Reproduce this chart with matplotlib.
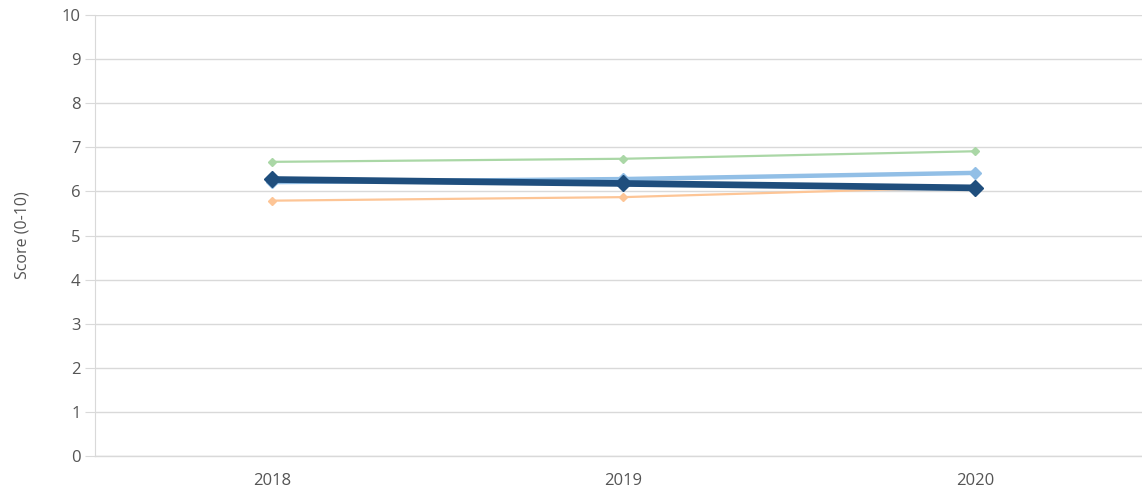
import matplotlib.pyplot as plt

years = ["2018", "2019", "2020"]
green_vals = [6.67, 6.74, 6.91]
orange_vals = [5.79, 5.87, 6.10]
light_blue_vals = [6.21, 6.28, 6.42]
dark_blue_vals = [6.27, 6.18, 6.08]
y_ticks = list(range(0, 11))

plt.rcParams['font.family'] = ['Open Sans', 'DejaVu Sans']

fig = plt.figure(figsize=(11.42, 4.92), dpi=100)
ax = fig.add_axes([95 / 1142, 1 - 456 / 492, 1 - 95 / 1142, (456 - 15) / 492])

x = list(range(len(years)))
ax.plot(x, orange_vals, color='#fdc596', lw=1.6, marker='D', ms=4.5, zorder=3)
ax.plot(x, green_vals, color='#aad7a6', lw=1.6, marker='D', ms=4.5, zorder=3)
ax.plot(x, light_blue_vals, color='#92bfe6', lw=3.2, marker='D', ms=6.5, zorder=4)
ax.plot(x, dark_blue_vals, color='#1f4e7d', lw=4.8, marker='D', ms=8, zorder=5)

ax.set_xlim(-0.503, 2.475)
ax.set_ylim(0, 10)
ax.set_yticks(y_ticks)
ax.set_xticks(x)
ax.set_xticklabels(years)
ax.grid(axis='y', color='#d9d9d9', lw=1)
ax.axhline(0, color='#d9d9d9', lw=1, clip_on=False, zorder=1)
ax.set_axisbelow(True)
for side in ['top', 'right', 'bottom']:
    ax.spines[side].set_visible(False)
ax.spines['left'].set_color('#d9d9d9')
ax.tick_params(axis='y', colors='#d9d9d9', labelcolor='#555555', length=7, labelsize=12)
ax.tick_params(axis='x', length=0, labelcolor='#555555', labelsize=12, pad=12)
ax.set_ylabel('Score (0-10)', color='#555555', fontsize=11.5, labelpad=22)

fig.savefig('out.png', dpi=100)
